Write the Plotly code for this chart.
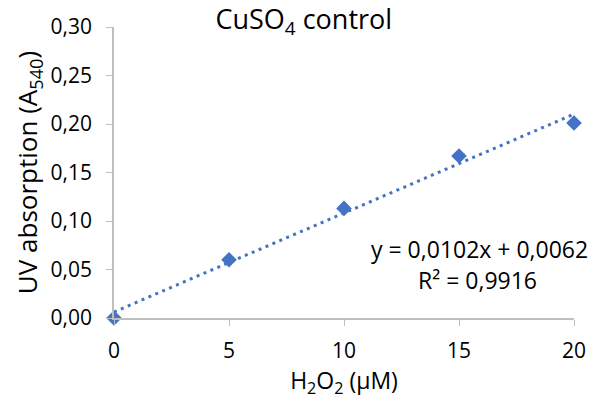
import plotly.graph_objects as go
import numpy as np

x_vals = [0, 5, 10, 15, 20]
y_vals = [0.0, 0.060, 0.113, 0.167, 0.201]
slope = 0.0102
intercept = 0.0062
eq_text = "y = 0,0102x + 0,0062"
r2_text = "R² = 0,9916"
title_text = "CuSO<sub>4</sub> control"
x_title = "H<sub>2</sub>O<sub>2</sub> (µM)"
y_title = "UV absorption (A<sub>540</sub>)"
x_ticks = [0, 5, 10, 15, 20]
y_ticks = [0, 0.05, 0.10, 0.15, 0.20, 0.25, 0.30]

FONT = "Open Sans"
BLUE = "#4472C4"
GRAY = "#bfbfbf"

trend_x = np.array([x_vals[0], x_vals[-1]])
trend_y = slope * trend_x + intercept

fig = go.Figure()
fig.add_trace(go.Scatter(x=trend_x, y=trend_y, mode="lines",
                         line=dict(color=BLUE, width=3, dash="3px,4.5px"),
                         cliponaxis=False, hoverinfo="skip"))
fig.add_trace(go.Scatter(x=x_vals, y=y_vals, mode="markers",
                         marker=dict(symbol="diamond", size=12, color=BLUE),
                         cliponaxis=False))

fig.update_layout(
    width=598, height=401,
    margin=dict(l=114, r=24, t=24, b=83),
    paper_bgcolor="white", plot_bgcolor="white",
    showlegend=False,
    separators=",.",
    font=dict(family=FONT, size=21, color="#000000"),
    title=dict(text=title_text, x=0.508, xanchor="center", y=0.975, yanchor="top",
               font=dict(family=FONT, size=27, color="#000000")),
    xaxis=dict(range=[0, 20], tickvals=x_ticks, showgrid=False, zeroline=False,
               showline=True, linecolor=GRAY, linewidth=1.5,
               ticks="outside", ticklen=6, tickcolor=GRAY,
               ticklabelstandoff=7,
               title=dict(text=x_title, standoff=4, font=dict(size=23)),
               tickfont=dict(size=21)),
    yaxis=dict(range=[0, 0.30], tickvals=y_ticks, tickformat=".2f", showgrid=False,
               zeroline=False, showline=True, linecolor=GRAY, linewidth=1.5,
               ticks="outside", ticklen=6, tickcolor=GRAY,
               ticklabelstandoff=10,
               title=dict(text=y_title, standoff=5, font=dict(size=26)),
               tickfont=dict(size=21)),
)
fig.add_annotation(x=1, xref="paper", xanchor="right", y=0.0714, yref="y",
                   yanchor="middle", text=eq_text, showarrow=False,
                   xshift=16, font=dict(size=23))
fig.add_annotation(x=15.8, xref="x", xanchor="center", y=0.0388, yref="y",
                   yanchor="middle", text=r2_text, showarrow=False,
                   font=dict(size=23))

fig.write_html("out.html")
